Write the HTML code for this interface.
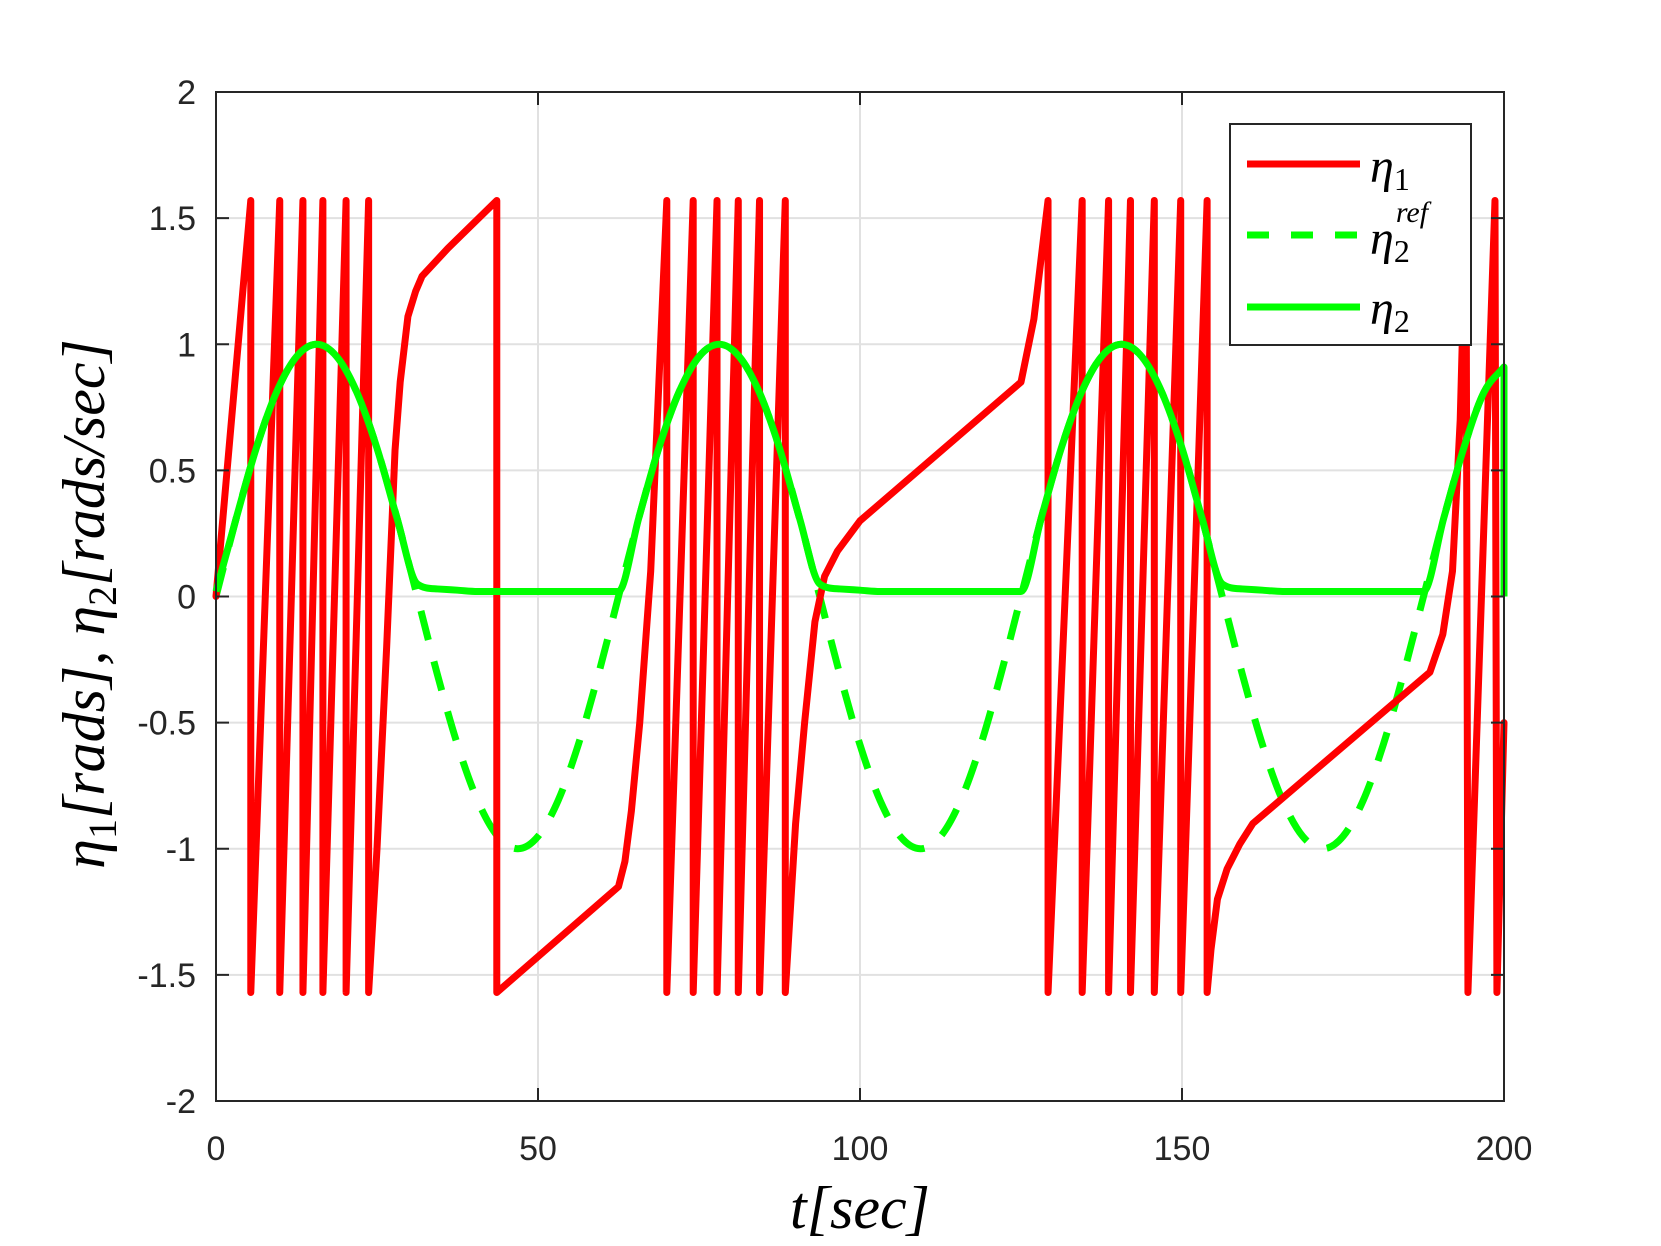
<!DOCTYPE html>
<html><head><meta charset="utf-8"><style>
body{margin:0;background:#fff}
svg{display:block}
.tk{font-family:"Liberation Sans",sans-serif;font-size:34px;fill:#262626}
.ml{font-family:"Liberation Serif",serif;font-style:italic;fill:#000}
</style></head><body>
<svg id="chart" width="1661" height="1246" viewBox="0 0 1661 1246">
<g id="grid"></g>
<g id="series"></g>
<rect x="216" y="92" width="1288" height="1009" fill="none" stroke="#262626" stroke-width="2"/>
<g id="ticks"></g>
<text class="ml" x="860" y="1228" font-size="60" text-anchor="middle">t[sec]</text>
<text class="ml" transform="translate(104,604) rotate(-90)" font-size="60" text-anchor="middle">η<tspan font-size="40" dy="12" font-style="normal">1</tspan><tspan dy="-12">[rads], η</tspan><tspan font-size="40" dy="12" font-style="normal">2</tspan><tspan dy="-12">[rads/sec]</tspan></text>
<g>
<rect x="1230" y="124" width="241" height="221" fill="#fff" stroke="#262626" stroke-width="2"/>
<line x1="1247" y1="164" x2="1360" y2="164" stroke="#ff0000" stroke-width="7"/>
<text class="ml" x="1370" y="182" font-size="48">η<tspan font-size="32" dy="8" font-style="normal">1</tspan></text>
<line x1="1247" y1="235" x2="1360" y2="235" stroke="#00ff00" stroke-width="7" stroke-dasharray="22,22"/>
<text class="ml" x="1370" y="254" font-size="48">η<tspan font-size="32" dy="8" font-style="normal">2</tspan><tspan font-size="30" dx="-14" dy="-40">ref</tspan></text>
<line x1="1247" y1="307" x2="1360" y2="307" stroke="#00ff00" stroke-width="7"/>
<text class="ml" x="1370" y="324" font-size="48">η<tspan font-size="32" dy="8" font-style="normal">2</tspan></text>
</g>
</svg>
<script>
const xTicks=[0,50,100,150,200];
const yTicks=[-2,-1.5,-1,-0.5,0,0.5,1,1.5,2];
const yTickLabels=["-2","-1.5","-1","-0.5","0","0.5","1","1.5","2"];
const eta1T=[0,5.4,5.4,9.9,9.9,13.5,13.5,16.6,16.6,20.2,20.2,23.7,23.7,25,26.5,27.8,28.6,29.8,31,32,36,43.6,43.6,62.5,63.5,64.5,65.8,67.5,70,70,74.1,74.1,77.8,77.8,81.1,81.1,84.4,84.4,88.4,88.4,90,91.4,93,94.5,96.5,100,125,127,129.2,129.2,134.5,134.5,138.6,138.6,142,142,145.7,145.7,149.8,149.8,153.9,153.9,154.5,155.5,157,159,161,188.5,190.5,192,193.2,194.1,194.4,198.6,198.9,200];
const eta1V=[0,1.57,-1.57,1.57,-1.57,1.57,-1.57,1.57,-1.57,1.57,-1.57,1.57,-1.57,-1.0,-0.2,0.58,0.85,1.11,1.21,1.27,1.38,1.57,-1.57,-1.15,-1.05,-0.85,-0.5,0.1,1.57,-1.57,1.57,-1.57,1.57,-1.57,1.57,-1.57,1.57,-1.57,1.57,-1.57,-0.9,-0.5,-0.1,0.08,0.18,0.3,0.85,1.1,1.57,-1.57,1.57,-1.57,1.57,-1.57,1.57,-1.57,1.57,-1.57,1.57,-1.57,1.57,-1.57,-1.4,-1.2,-1.08,-0.98,-0.9,-0.3,-0.15,0.1,0.7,1.57,-1.57,1.57,-1.57,-0.5];
const refT=[0,3.125,6.25,9.375,12.5,15.625,18.75,21.875,25,28.125,31.25,34.375,37.5,40.625,43.75,46.875,50,53.125,56.25,59.375,62.5,65.625,68.75,71.875,75,78.125,81.25,84.375,87.5,90.625,93.75,96.875,100,103.125,106.25,109.375,112.5,115.625,118.75,121.875,125,128.125,131.25,134.375,137.5,140.625,143.75,146.875,150,153.125,156.25,159.375,162.5,165.625,168.75,171.875,175,178.125,181.25,184.375,187.5,190.625,193.75,196.875,200];
const refV=[0,.309,.588,.809,.951,1,.951,.809,.588,.309,0,-.309,-.588,-.809,-.951,-1,-.951,-.809,-.588,-.309,0,.309,.588,.809,.951,1,.951,.809,.588,.309,0,-.309,-.588,-.809,-.951,-1,-.951,-.809,-.588,-.309,0,.309,.588,.809,.951,1,.951,.809,.588,.309,0,-.309,-.588,-.809,-.951,-1,-.951,-.809,-.588,-.309,0,.309,.588,.809,.91];
const eta2V=[0.02,.309,.588,.809,.951,1,.951,.809,.588,.309,.05,.03,.025,.02,.02,.02,.02,.02,.02,.02,.02,.309,.588,.809,.951,1,.951,.809,.588,.309,.05,.03,.025,.02,.02,.02,.02,.02,.02,.02,.02,.309,.588,.809,.951,1,.951,.809,.588,.309,.05,.03,.025,.02,.02,.02,.02,.02,.02,.02,.02,.309,.588,.809,.91];
const X0=216,X1=1504,Y0=1101,Y1=92;
const xs=t=>X0+(t-0)/(200-0)*(X1-X0);
const ys=v=>Y0-(v+2)/4*(Y0-Y1);
const NS="http://www.w3.org/2000/svg";
const grid=document.getElementById('grid'),ticks=document.getElementById('ticks'),ser=document.getElementById('series');
function mk(tag,attrs,parent){const e=document.createElementNS(NS,tag);for(const k in attrs)e.setAttribute(k,attrs[k]);parent.appendChild(e);return e;}
xTicks.forEach(t=>{const x=xs(t);
 const g=mk('line',{x1:x,x2:x,y1:Y1,y2:Y0,stroke:'#e1e1e1','stroke-width':2},grid);
 
 
 const a=mk('line',{x1:x,x2:x,y1:Y0,y2:Y0-13,stroke:'#262626','stroke-width':2},ticks);
 
 
 const b=mk('line',{x1:x,x2:x,y1:Y1,y2:Y1+13,stroke:'#262626','stroke-width':2},ticks);
 
 
 const l=mk('text',{x:x,y:1160,'text-anchor':'middle',class:'tk'},ticks);l.textContent=String(t);
 
 
});
yTicks.forEach((v,i)=>{const y=ys(v);
 const g=mk('line',{x1:X0,x2:X1,y1:y,y2:y,stroke:'#e1e1e1','stroke-width':2},grid);
 
 
 const a=mk('line',{x1:X0,x2:X0+13,y1:y,y2:y,stroke:'#262626','stroke-width':2},ticks);
 
 
 const b=mk('line',{x1:X1,x2:X1-13,y1:y,y2:y,stroke:'#262626','stroke-width':2},ticks);
 
 
 const l=mk('text',{x:196,y:y+12,'text-anchor':'end',class:'tk'},ticks);l.textContent=yTickLabels[i];
 
 
});
function monotone(T,V){const x=T.map(xs),y=V.map(ys),n=x.length;const d=[],m=[];
 for(let i=0;i<n-1;i++)d.push((y[i+1]-y[i])/(x[i+1]-x[i]));
 m[0]=d[0];m[n-1]=d[n-2];
 for(let i=1;i<n-1;i++)m[i]=(d[i-1]*d[i]<=0)?0:(d[i-1]+d[i])/2;
 for(let i=0;i<n-1;i++){if(d[i]===0){m[i]=0;m[i+1]=0;continue;}const a=m[i]/d[i],b=m[i+1]/d[i],s=a*a+b*b;if(s>9){const t=3/Math.sqrt(s);m[i]=t*a*d[i];m[i+1]=t*b*d[i];}}
 let p='M'+x[0]+','+y[0];
 for(let i=0;i<n-1;i++){const h=(x[i+1]-x[i])/3;p+=' C'+(x[i]+h)+','+(y[i]+m[i]*h)+' '+(x[i+1]-h)+','+(y[i+1]-m[i+1]*h)+' '+x[i+1]+','+y[i+1];}
 return p;}
const ref=mk('path',{d:monotone(refT,refV),fill:'none',stroke:'#00ff00','stroke-width':7,'stroke-dasharray':'30,22'},ser);


const e1=mk('path',{d:'M'+eta1T.map((t,i)=>xs(t)+','+ys(eta1V[i])).join(' L'),fill:'none',stroke:'#ff0000','stroke-width':7,'stroke-linejoin':'round','stroke-linecap':'round'},ser);


const e2=mk('path',{d:monotone(refT,eta2V)+' L'+xs(200)+','+ys(0),fill:'none',stroke:'#00ff00','stroke-width':7,'stroke-linejoin':'round'},ser);


</script>
</body></html>
